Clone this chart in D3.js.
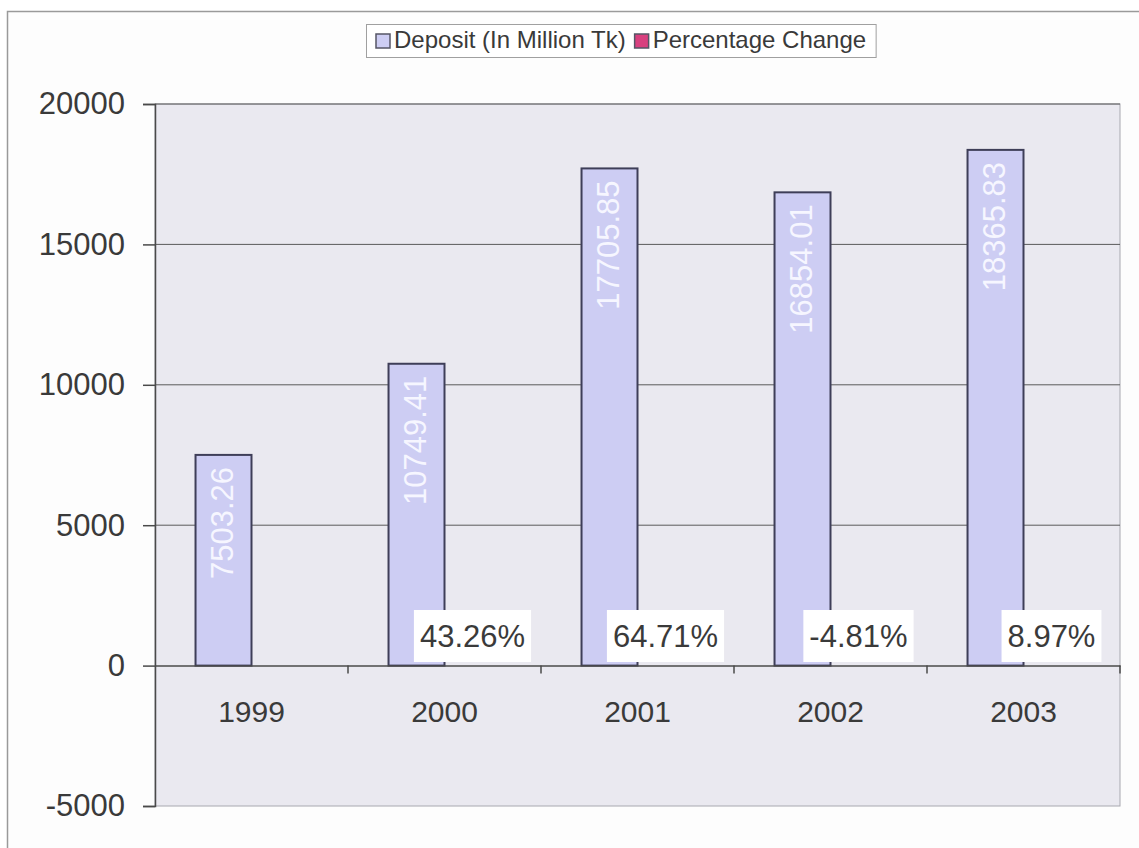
<!DOCTYPE html>
<html>
<head>
<meta charset="utf-8">
<script src="https://cdn.jsdelivr.net/npm/d3@7"></script>
<style>
  html, body { margin: 0; padding: 0; background: #ffffff; }
  svg { display: block; font-family: "Liberation Sans", Arial, sans-serif; }
</style>
</head>
<body>
<svg id="chart" width="1139" height="848"></svg>
<script>
// ---- data ----
const years = ["1999", "2000", "2001", "2002", "2003"];
const deposit = [7503.26, 10749.41, 17705.85, 16854.01, 18365.83];
const pctChange = [null, 43.26, 64.71, -4.81, 8.97];
const seriesNames = ["Deposit (In Million Tk)", "Percentage Change"];
const yTicks = [-5000, 0, 5000, 10000, 15000, 20000];

// ---- layout ----
const W = 1139, H = 848;
const plot = { left: 155, right: 1120, top: 104, bottom: 806 };
const colDeposit = "#cdcdf3";
const colPct = "#d8407f";
const textCol = "#3a3a3a";

const svg = d3.select("#chart");

// chart area border (only left & top visible)
svg.append("rect").attr("x", 0).attr("y", 0).attr("width", W).attr("height", H).attr("fill", "#ffffff");
svg.append("rect").attr("x", 7.5).attr("y", 11.5).attr("width", W + 20).attr("height", H + 20)
  .attr("fill", "#fdfdfd").attr("stroke", "#9a9a9a").attr("stroke-width", 1.5);

const x0 = d3.scaleBand().domain(years).range([plot.left, plot.right]).padding(0);
const bw = x0.bandwidth();
const x1 = d3.scaleBand().domain(["dep", "pct"]).range([bw * 0.21, bw * 0.79]).padding(0);
const y = d3.scaleLinear().domain([-5000, 20000]).range([plot.bottom, plot.top]);

// plot area
svg.append("rect")
  .attr("x", plot.left).attr("y", plot.top)
  .attr("width", plot.right - plot.left).attr("height", plot.bottom - plot.top)
  .attr("fill", "#eae9f0").attr("stroke", "#a8a8b0").attr("stroke-width", 1);

// gridlines
svg.append("g").selectAll("line")
  .data(yTicks.filter(t => t > -5000 && t !== 0))
  .join("line")
  .attr("x1", plot.left).attr("x2", plot.right)
  .attr("y1", d => y(d)).attr("y2", d => y(d))
  .attr("stroke", "#5a5a5a").attr("stroke-width", 1);

// bars: deposit
svg.append("g").selectAll("rect")
  .data(deposit)
  .join("rect")
  .attr("x", (d, i) => x0(years[i]) + x1("dep"))
  .attr("y", d => y(d))
  .attr("width", x1.bandwidth())
  .attr("height", d => y(0) - y(d))
  .attr("fill", colDeposit)
  .attr("stroke", "#3e3e58").attr("stroke-width", 2);

// bars: percentage change (values as fractions, practically zero height)
svg.append("g").selectAll("rect")
  .data(pctChange)
  .join("rect")
  .attr("x", (d, i) => x0(years[i]) + x1("pct"))
  .attr("y", d => d == null ? y(0) : Math.min(y(d / 100), y(0)))
  .attr("width", x1.bandwidth())
  .attr("height", d => d == null ? 0 : Math.abs(y(d / 100) - y(0)))
  .attr("fill", colPct);

// value labels inside deposit bars
svg.append("g").selectAll("text")
  .data(deposit)
  .join("text")
  .attr("transform", (d, i) => {
    const cx = x0(years[i]) + x1("dep") + x1.bandwidth() / 2 - 2;
    return `translate(${cx},${y(d) + 12}) rotate(-90)`;
  })
  .attr("text-anchor", "end")
  .attr("dy", "0.36em")
  .attr("font-size", 31)
  .attr("fill", "#f6f6ff")
  .text(d => d.toFixed(2));

// x axis line (at 0)
const xAxis = d3.axisBottom(x0).tickSize(0).tickFormat(() => "");
const gx = svg.append("g").attr("transform", `translate(0,${y(0)})`).call(xAxis);
gx.select(".domain").attr("stroke", "#4a4a4a").attr("stroke-width", 1.5);
// category boundary ticks
svg.append("g").selectAll("line")
  .data(years.slice(1))
  .join("line")
  .attr("x1", d => x0(d)).attr("x2", d => x0(d))
  .attr("y1", y(0)).attr("y2", y(0) + 8)
  .attr("stroke", "#4a4a4a").attr("stroke-width", 1.5);
svg.append("line")
  .attr("x1", plot.right).attr("x2", plot.right)
  .attr("y1", y(0)).attr("y2", y(0) + 8)
  .attr("stroke", "#4a4a4a").attr("stroke-width", 1.5);

// category labels
svg.append("g").selectAll("text")
  .data(years)
  .join("text")
  .attr("x", d => x0(d) + bw / 2)
  .attr("y", 722)
  .attr("text-anchor", "middle")
  .attr("font-size", 30)
  .attr("fill", textCol)
  .text(d => d);

// y axis
const yAxis = d3.axisLeft(y).tickValues(yTicks).tickSize(12).tickPadding(18).tickFormat(d => String(d));
const gy = svg.append("g").attr("transform", `translate(${plot.left},0)`).call(yAxis);
gy.select(".domain").attr("stroke", "#4a4a4a").attr("stroke-width", 1.5);
gy.selectAll(".tick line").attr("stroke", "#4a4a4a").attr("stroke-width", 1.5);
gy.selectAll(".tick text").attr("font-size", 31).attr("fill", textCol)
  .attr("font-family", "'Liberation Sans', Arial, sans-serif");

// percentage labels with white boxes
const pctG = svg.append("g");
pctChange.forEach((d, i) => {
  if (d == null) return;
  const cx = x0(years[i]) + x1("pct") + x1.bandwidth() / 2;
  const g = pctG.append("g");
  const t = g.append("text")
    .attr("x", cx).attr("y", 647)
    .attr("text-anchor", "middle")
    .attr("font-size", 31)
    .attr("fill", textCol)
    .text(d.toFixed(2) + "%");
  const bb = t.node().getBBox();
  g.insert("rect", "text")
    .attr("x", bb.x - 6).attr("y", 610)
    .attr("width", bb.width + 12).attr("height", 52)
    .attr("fill", "#ffffff");
});

// legend
const lg = svg.append("g");
const legendBox = lg.append("rect").attr("x", 366.5).attr("y", 24.5).attr("height", 33)
  .attr("fill", "#ffffff").attr("stroke", "#a0a0a0").attr("stroke-width", 1);
const legendColors = [colDeposit, colPct];
let lx = 376;
seriesNames.forEach((name, i) => {
  lg.append("rect").attr("x", lx).attr("y", 34).attr("width", 14).attr("height", 14)
    .attr("fill", legendColors[i]).attr("stroke", "#555566").attr("stroke-width", 1.5);
  const t = lg.append("text").attr("x", lx + 18).attr("y", 48)
    .attr("font-size", 24).attr("fill", textCol).text(name);
  lx = lx + 18 + t.node().getComputedTextLength() + 9;
});
legendBox.attr("width", lx - 366.5 + 1);
</script>
</body>
</html>
